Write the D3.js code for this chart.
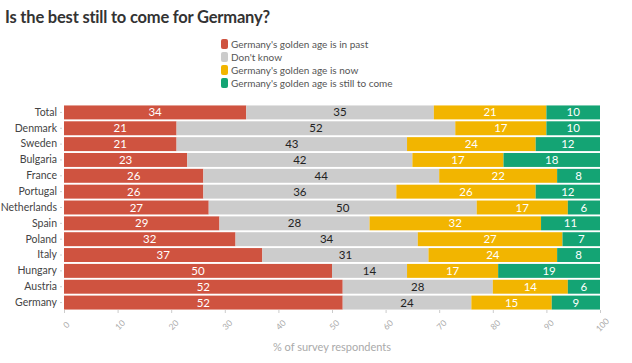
<!DOCTYPE html>
<html><head><meta charset="utf-8">
<script src="https://cdn.jsdelivr.net/npm/d3@7"></script>
<style>body{margin:0;background:#fff;font-family:Lato,"Open Sans",sans-serif;}</style>
</head><body><svg id="c" width="632" height="363"></svg>
<script>
const title = "Is the best still to come for Germany?";
const categories = ["Total","Denmark","Sweden","Bulgaria","France","Portugal","Netherlands","Spain","Poland","Italy","Hungary","Austria","Germany"];
const seriesNames = ["Germany's golden age is in past","Don't know","Germany's golden age is now","Germany's golden age is still to come"];
const seriesColors = ["#cf5340","#cccccc","#f2b500","#14a474"];
const labelColors = ["#fff","#222","#fff","#fff"];
const past  = [34,21,21,23,26,26,27,29,32,37,50,52,52];
const dontKnow = [35,52,43,42,44,36,50,28,34,31,14,28,24];
const now   = [21,17,24,17,22,26,17,32,27,24,17,14,15];
const come  = [10,10,12,18,8,12,6,11,7,8,19,6,9];
const xTicks = [0,10,20,30,40,50,60,70,80,90,100];
const xTitle = "% of survey respondents";

const svg = d3.select("#c");
const x = d3.scaleLinear().domain([0,100]).range([64,600]);
const y = d3.scaleBand().domain(categories).range([104.5,310.5]).paddingInner(0.12).paddingOuter(0.06);

svg.append("text").attr("x",5).attr("y",23).attr("font-size",16.5).attr("font-weight","bold")
  .attr("letter-spacing","-0.2").attr("fill","#333").text(title);

const lg = svg.append("g");
seriesNames.forEach((n,i)=>{
  const yy = 39 + i*13;
  lg.append("rect").attr("x",221).attr("y",yy).attr("width",7).attr("height",10).attr("rx",2).attr("fill",seriesColors[i]);
  lg.append("text").attr("x",231).attr("y",yy+8.5).attr("font-size",10).attr("fill","#555").text(n);
});

const series = [past,dontKnow,now,come];
const data = categories.map((c,i)=>({cat:c, v:series.map(s=>s[i])}));
const stack = d3.stack().keys([0,1,2,3]).value((d,k)=>d.v[k])(data);

stack.forEach((layer,k)=>{
  const g = svg.append("g");
  g.selectAll("rect").data(layer).join("rect")
    .attr("x",d=>x(d[0])).attr("width",d=>x(d[1])-x(d[0]))
    .attr("y",d=>y(d.data.cat)).attr("height",y.bandwidth())
    .attr("fill",seriesColors[k]);
  g.selectAll("text").data(layer).join("text")
    .attr("x",d=>(x(d[0])+x(d[1]))/2).attr("y",d=>y(d.data.cat)+y.bandwidth()/2+4)
    .attr("text-anchor","middle").attr("font-size",11.5).attr("fill",labelColors[k])
    .text(d=>d.data.v[k]);
});

const ya = svg.append("g").attr("transform","translate(62,0)")
  .call(d3.axisLeft(y).tickSize(2).tickPadding(3));
ya.select(".domain").remove();
ya.selectAll("line").attr("stroke","#ccc");
ya.selectAll("text").attr("font-size",10.5).attr("fill","#444").attr("font-family","Lato,sans-serif");

const xa = svg.append("g").attr("transform","translate(0,310)")
  .call(d3.axisBottom(x).tickValues(xTicks).tickSize(3).tickPadding(4));
xa.select(".domain").remove();
xa.selectAll("line").attr("stroke","#ccc");
xa.selectAll("text").attr("font-size",8.5).attr("fill","#aaa").attr("font-family","Lato,sans-serif")
  .attr("text-anchor","middle").attr("y",0).attr("dy","0.35em")
  .attr("transform","translate(2,15) rotate(-45)");

svg.append("text").attr("x",332).attr("y",351).attr("text-anchor","middle").attr("font-size",11)
  .attr("fill","#aaa").text(xTitle);
</script></body></html>
